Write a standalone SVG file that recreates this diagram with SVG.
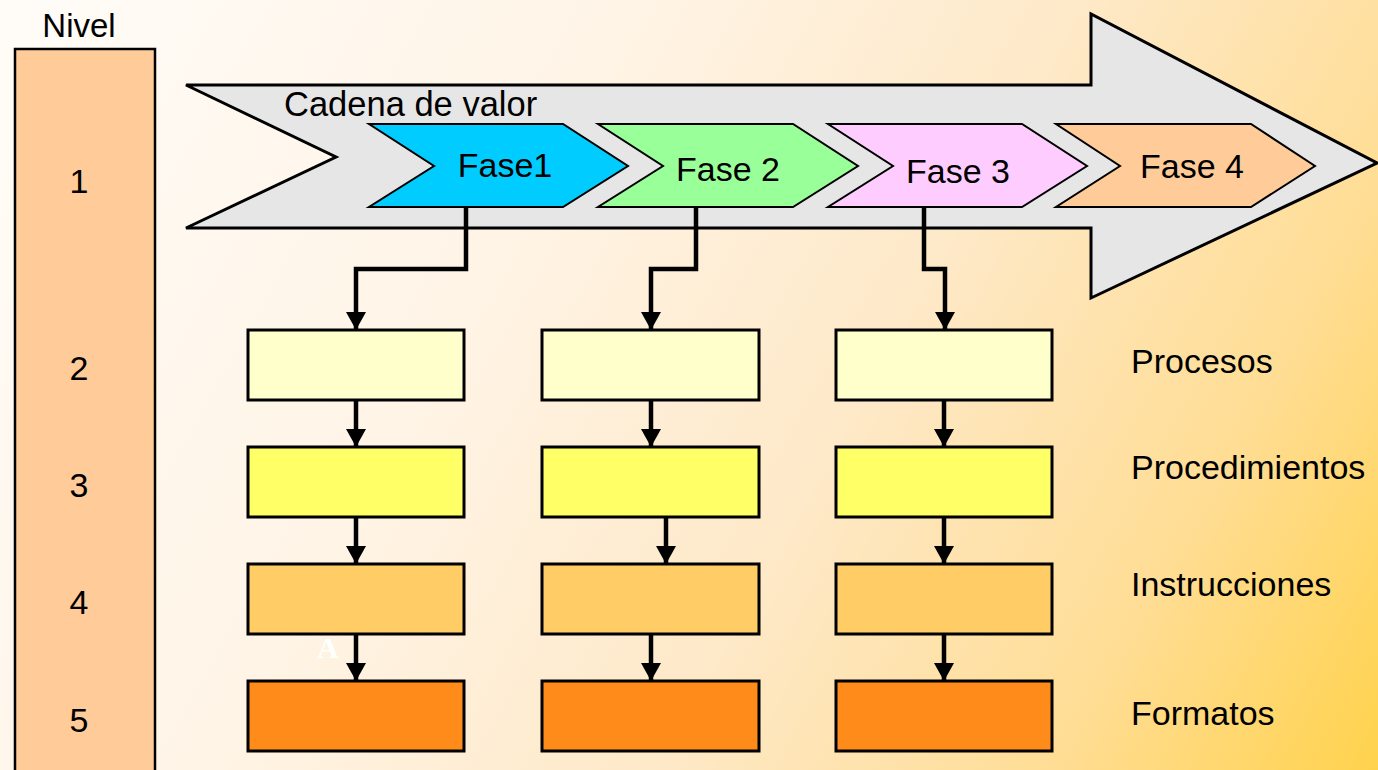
<svg xmlns="http://www.w3.org/2000/svg" width="1378" height="770" viewBox="0 0 1378 770">
<defs>
<linearGradient id="bg" x1="0" y1="0" x2="1378" y2="770" gradientUnits="userSpaceOnUse">
<stop offset="0" stop-color="#FFFCF8"/>
<stop offset="0.35" stop-color="#FFF4E6"/>
<stop offset="0.6" stop-color="#FEE9C8"/>
<stop offset="0.82" stop-color="#FFDD94"/>
<stop offset="1" stop-color="#FFD24C"/>
</linearGradient>
<marker id="ah" markerWidth="20" markerHeight="18" refX="10" refY="17" orient="0" markerUnits="userSpaceOnUse" viewBox="0 0 20 18">
<path d="M0,0 L20,0 L10,18 Z" fill="#000"/>
</marker>
</defs>
<style>
text{font-family:"Liberation Sans",Arial,sans-serif;font-size:34px;fill:#000}
.mid{text-anchor:middle}
.chev{stroke:#000;stroke-width:2;stroke-linejoin:miter}
.box{stroke:#000;stroke-width:3}
.con{fill:none;stroke:#000;stroke-width:4.5}
</style>
<rect x="0" y="0" width="1378" height="770" fill="url(#bg)"/>

<g id="nivel">
<rect x="15" y="49" width="140" height="740" fill="#FFCC99" stroke="#000" stroke-width="2.5"/>
<text x="79" y="37" class="mid" style="font-size:33px">Nivel</text>
<text x="79" y="193" class="mid">1</text>
<text x="79" y="380" class="mid">2</text>
<text x="79" y="497" class="mid">3</text>
<text x="79" y="614" class="mid">4</text>
<text x="79" y="732" class="mid">5</text>
</g>

<g id="cadena">
<polygon points="186,85 1091,85 1091,14 1377,163 1091,298 1091,228 186,228 336,157" fill="#E6E6E6" stroke="#000" stroke-width="3" stroke-linejoin="miter"/>
<text x="284" y="116" style="font-size:34.5px">Cadena de valor</text>
</g>

<g id="fase1">
<polygon class="chev" points="369,124 563,124 628,166 563,207 369,207 434,166" fill="#00CCFF"/>
<text x="505" y="177" class="mid">Fase1</text>
</g>
<g id="fase2">
<polygon class="chev" points="598,124 793,124 858,166 793,207 598,207 663,166" fill="#99FF99"/>
<text x="728" y="181" class="mid">Fase 2</text>
</g>
<g id="fase3">
<polygon class="chev" points="828,124 1022,124 1087,166 1022,207 828,207 893,166" fill="#FFCCFF"/>
<text x="958" y="183" class="mid">Fase 3</text>
</g>
<g id="fase4">
<polygon class="chev" points="1056,124 1251,124 1315,166 1251,207 1056,207 1120,166" fill="#FFCC99"/>
<text x="1192" y="178" class="mid">Fase 4</text>
</g>

<g id="procesos">
<rect class="box" x="248" y="330" width="216" height="70" fill="#FFFFCC"/>
<rect class="box" x="542" y="330" width="217" height="70" fill="#FFFFCC"/>
<rect class="box" x="836" y="330" width="216" height="70" fill="#FFFFCC"/>
<text x="1131" y="373">Procesos</text>
</g>
<g id="procedimientos">
<rect class="box" x="248" y="447" width="216" height="70" fill="#FFFF66"/>
<rect class="box" x="542" y="447" width="217" height="70" fill="#FFFF66"/>
<rect class="box" x="836" y="447" width="216" height="70" fill="#FFFF66"/>
<text x="1131" y="479">Procedimientos</text>
</g>
<g id="instrucciones">
<rect class="box" x="248" y="564" width="216" height="70" fill="#FFCC66"/>
<rect class="box" x="542" y="564" width="217" height="70" fill="#FFCC66"/>
<rect class="box" x="836" y="564" width="216" height="70" fill="#FFCC66"/>
<text x="1131" y="596">Instrucciones</text>
</g>
<g id="formatos">
<rect class="box" x="248" y="681" width="216" height="70" fill="#FF8C1A"/>
<rect class="box" x="542" y="681" width="217" height="70" fill="#FF8C1A"/>
<rect class="box" x="836" y="681" width="216" height="70" fill="#FF8C1A"/>
<text x="1131" y="725">Formatos</text>
</g>

<g id="connectors">
<path class="con" d="M466,207 V269 H356 V329" marker-end="url(#ah)"/>
<path class="con" d="M696,207 V269 H651 V329" marker-end="url(#ah)"/>
<path class="con" d="M924,207 V269 H945 V329" marker-end="url(#ah)"/>
<path class="con" d="M356,400 V446" marker-end="url(#ah)"/>
<path class="con" d="M651,400 V446" marker-end="url(#ah)"/>
<path class="con" d="M944,400 V446" marker-end="url(#ah)"/>
<path class="con" d="M356,517 V563" marker-end="url(#ah)"/>
<path class="con" d="M666,517 V563" marker-end="url(#ah)"/>
<path class="con" d="M944,517 V563" marker-end="url(#ah)"/>
<path class="con" d="M356,634 V680" marker-end="url(#ah)"/>
<path class="con" d="M651,634 V680" marker-end="url(#ah)"/>
<path class="con" d="M944,634 V680" marker-end="url(#ah)"/>
</g>

<text x="317" y="658" style="font-family:'Liberation Serif','Times New Roman',serif;font-weight:bold;font-size:30px;fill:#FFFFFF">A</text>
</svg>
